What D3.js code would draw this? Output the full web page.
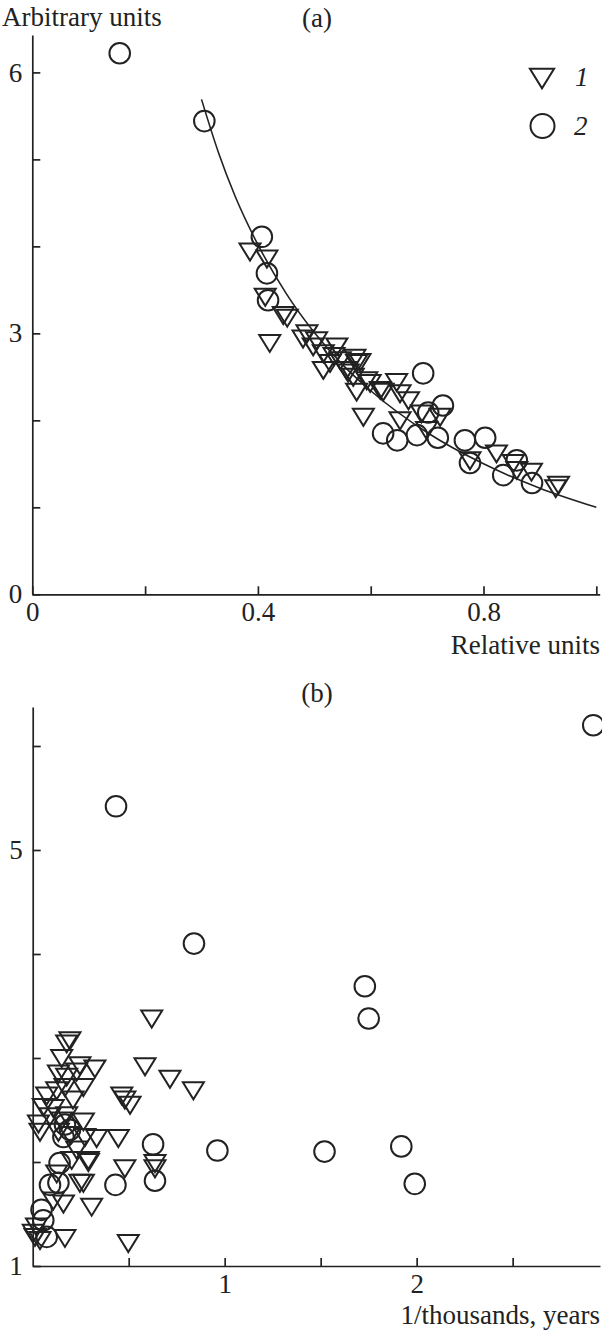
<!DOCTYPE html>
<html>
<head>
<meta charset="utf-8">
<script src="https://cdn.jsdelivr.net/npm/d3@7"></script>
<style>
  body { margin: 0; background: #fff; }
  text { font-family: "Liberation Serif", "Times New Roman", serif; fill: #222; }
</style>
</head>
<body>
<div id="viz_container"></div>
<script>
// panel (a): series 1 (triangles) and 2 (circles), relative units vs arbitrary units
const aTriX = [0.386, 0.416, 0.413, 0.445, 0.452, 0.421, 0.487, 0.480, 0.504, 0.540, 0.498, 0.516,
  0.575, 0.546, 0.528, 0.516, 0.557, 0.646, 0.593, 0.569, 0.617, 0.652, 0.581, 0.572,
  0.587, 0.575, 0.599, 0.622, 0.667, 0.690, 0.723, 0.652, 0.699, 0.776, 0.823, 0.853,
  0.885, 0.933, 0.928, 0.859, 0.535, 0.560];
const aTriY = [3.94, 3.86, 3.42, 3.21, 3.18, 2.89, 3.00, 2.94, 2.92, 2.85, 2.85, 2.77,
  2.66, 2.69, 2.66, 2.58, 2.58, 2.44, 2.46, 2.50, 2.35, 2.31, 2.67, 2.72,
  2.04, 2.33, 2.43, 2.33, 2.23, 2.08, 2.04, 2.00, 1.89, 1.54, 1.62, 1.51,
  1.41, 1.26, 1.22, 1.43, 2.74, 2.55];
const aCirX = [0.155, 0.305, 0.407, 0.416, 0.418, 0.693, 0.728, 0.702, 0.622, 0.647, 0.682,
  0.719, 0.767, 0.803, 0.776, 0.859, 0.835, 0.886];
const aCirY = [6.22, 5.44, 4.11, 3.69, 3.38, 2.54, 2.17, 2.09, 1.85, 1.77, 1.83,
  1.80, 1.77, 1.80, 1.51, 1.54, 1.37, 1.28];
// fitted curve
const fitX = [0.30, 0.33, 0.36, 0.40, 0.45, 0.50, 0.55, 0.60, 0.70, 0.80, 0.90, 1.00];
const fitY = [5.69, 5.08, 4.57, 4.02, 3.46, 3.01, 2.64, 2.34, 1.86, 1.50, 1.22, 1.00];
const aXTicks = [0, 0.2, 0.4, 0.6, 0.8, 1.0];
const aXLabels = ["0", "", "0.4", "", "0.8", ""];
const aYTicks = [0, 1, 2, 3, 4, 5, 6];
const aYLabels = ["0", "", "", "3", "", "", "6"];

// panel (b): 1/thousands, years
const bTriX = [0.620, 0.585, 0.715, 0.837, 0.464, 0.480, 0.507, 0.446, 0.480, 0.637, 0.637,
  0.498, 0.307, 0.264, 0.333, 0.290, 0.160, 0.168, 0.194, 0.177, 0.151, 0.246, 0.324,
  0.229, 0.134, 0.177, 0.264, 0.073, 0.125, 0.168, 0.055, 0.107, 0.030, 0.038, 0.090,
  0.177, 0.264, 0.134, 0.194, 0.272, 0.203, 0.229, 0.290, 0.125, 0.246, 0.107, 0.020,
  0.012, 0.038, 0.003, 0.210, 0.150];
const bTriY = [3.38, 2.92, 2.80, 2.69, 2.64, 2.60, 2.55, 2.23, 1.94, 1.99, 1.94,
  1.22, 1.57, 1.80, 2.23, 2.02, 1.60, 1.27, 3.17, 3.14, 3.00, 2.93, 2.90,
  2.87, 2.85, 2.82, 2.72, 2.64, 2.69, 2.72, 2.53, 2.52, 2.37, 2.29, 2.44,
  2.45, 2.39, 2.29, 2.26, 2.24, 2.02, 2.12, 2.00, 1.89, 1.80, 1.63, 1.38,
  1.28, 1.25, 1.32, 2.60, 2.40];
const bCirX = [2.92, 0.434, 0.84, 1.73, 1.75, 0.627, 0.962, 1.52, 1.92, 1.99, 0.637, 0.431,
  0.090, 0.140, 0.046, 0.055, 0.073, 0.160, 0.194, 0.168, 0.134];
const bCirY = [6.20, 5.42, 4.10, 3.69, 3.38, 2.17, 2.11, 2.10, 2.15, 1.79, 1.82, 1.78,
  1.78, 1.99, 1.54, 1.44, 1.28, 2.24, 2.31, 2.36, 1.80];
const bXTicks = [0.5, 1, 1.5, 2, 2.5];
const bXLabels = ["", "1", "", "2", ""];
const bYTicks = [1, 2, 3, 4, 5, 6];
const bYLabels = ["1", "", "", "", "5", ""];

const width = 602, height = 1332;
const ink = "#222";
const fontSize = 27;

const svg = d3.select("#viz_container").append("svg")
  .attr("width", width).attr("height", height)
  .attr("viewBox", `0 0 ${width} ${height}`);

const triPath = (s) => `M${-10.5 * s},${-8 * s}L${10.5 * s},${-8 * s}L0,${9 * s}Z`;

function drawAxes(g, x, y, xt, xl, yt, yl) {
  g.append("g")
    .attr("transform", `translate(0,${y.range()[0]})`)
    .call(d3.axisBottom(x).tickValues(xt).tickSize(-8).tickSizeOuter(0).tickPadding(8)
      .tickFormat((d, i) => xl[i]));
  g.append("g")
    .attr("transform", `translate(${x.range()[0]},0)`)
    .call(d3.axisLeft(y).tickValues(yt).tickSize(-8).tickSizeOuter(0).tickPadding(10)
      .tickFormat((d, i) => yl[i]));
  g.selectAll(".domain, .tick line").attr("stroke", ink).attr("stroke-width", 1.7);
  g.selectAll(".tick text").attr("font-size", fontSize).attr("font-family", "Liberation Serif").attr("fill", ink);
}

function drawPoints(g, x, y, tx, ty, cx, cy) {
  g.append("g").selectAll("path").data(tx).enter().append("path")
    .attr("d", triPath(1))
    .attr("transform", (d, i) => `translate(${x(d)},${y(ty[i])})`)
    .attr("fill", "none").attr("stroke", ink).attr("stroke-width", 2);
  g.append("g").selectAll("circle").data(cx).enter().append("circle")
    .attr("cx", (d) => x(d)).attr("cy", (d, i) => y(cy[i])).attr("r", 10.3)
    .attr("fill", "none").attr("stroke", ink).attr("stroke-width", 2);
}

// ---- panel (a)
const xa = d3.scaleLinear().domain([0, 1.006]).range([32.3, 599.7]);
const ya = d3.scaleLinear().domain([0, 6.43]).range([594.3, 35]);
const ga = svg.append("g");
drawAxes(ga, xa, ya, aXTicks, aXLabels, aYTicks, aYLabels);

ga.append("path")
  .datum(fitX.map((d, i) => [d, fitY[i]]))
  .attr("d", d3.line().x((d) => xa(d[0])).y((d) => ya(d[1])).curve(d3.curveMonotoneX))
  .attr("fill", "none").attr("stroke", ink).attr("stroke-width", 1.6);

drawPoints(ga, xa, ya, aTriX, aTriY, aCirX, aCirY);

ga.append("text").attr("x", 2).attr("y", 26).attr("font-size", fontSize).text("Arbitrary units");
ga.append("text").attr("x", 317).attr("y", 27).attr("text-anchor", "middle").attr("font-size", fontSize).text("(a)");
ga.append("text").attr("x", 600).attr("y", 654).attr("text-anchor", "end").attr("font-size", fontSize).text("Relative units");

// legend
const leg = ga.append("g");
leg.append("path").attr("d", triPath(1.15)).attr("transform", "translate(542,78)")
  .attr("fill", "none").attr("stroke", ink).attr("stroke-width", 2);
leg.append("circle").attr("cx", 542.5).attr("cy", 126).attr("r", 12)
  .attr("fill", "none").attr("stroke", ink).attr("stroke-width", 2);
leg.append("text").attr("x", 575).attr("y", 86).attr("font-size", fontSize).attr("font-style", "italic").text("1");
leg.append("text").attr("x", 574).attr("y", 135).attr("font-size", fontSize).attr("font-style", "italic").text("2");

// ---- panel (b)
const xb = d3.scaleLinear().domain([0, 2.955]).range([32.7, 600]);
const yb = d3.scaleLinear().domain([1, 6.375]).range([1266, 707]);
const gb = svg.append("g");
drawAxes(gb, xb, yb, bXTicks, bXLabels, bYTicks, bYLabels);
drawPoints(gb, xb, yb, bTriX, bTriY, bCirX, bCirY);

gb.append("text").attr("x", 317).attr("y", 702).attr("text-anchor", "middle").attr("font-size", fontSize).text("(b)");
gb.append("text").attr("x", 600).attr("y", 1324).attr("text-anchor", "end").attr("font-size", fontSize).text("1/thousands, years");
</script>
</body>
</html>
